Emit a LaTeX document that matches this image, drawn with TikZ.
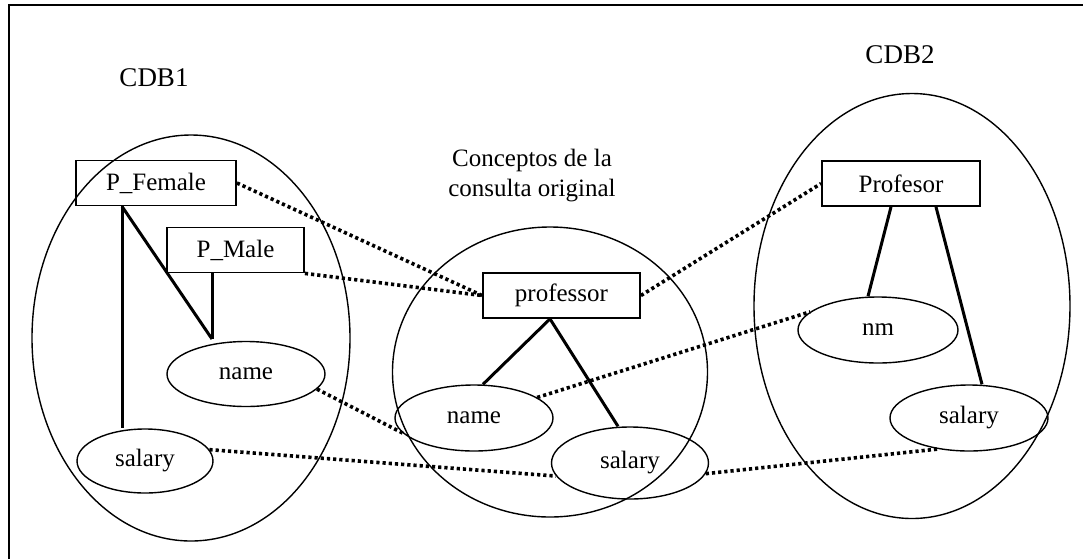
\documentclass[tikz,border=0pt]{standalone}
\usepackage{fontspec}
\setmainfont{Liberation Serif}
\usetikzlibrary{shapes.geometric}

\begin{document}
\begin{tikzpicture}[x=0.5pt, y=-0.5pt,
    font=\fontsize{12.5}{15}\selectfont,
    cls/.style={draw, rectangle, line width=0.9pt, minimum height=22.5pt, inner sep=1pt},
    att/.style={draw, ellipse, line width=0.7pt, inner sep=0pt},
    cdb/.style={draw, ellipse, line width=0.7pt, inner sep=0pt},
    rel/.style={line width=1.5pt},
    map/.style={line width=1.8pt, dash pattern=on 1.6pt off 1.5pt}]
  \useasboundingbox (0,0) rectangle (1083,559);
  \draw[line width=1pt] (9,559) -- (9,5) -- (1083,5);

  % the three groups of concepts
  \node[cdb, minimum width=159pt, minimum height=203pt] (G-1) at (191,338) {};
  \node[cdb, minimum width=157.5pt, minimum height=145pt] (G-2) at (550,372) {};
  \node[cdb, minimum width=158pt, minimum height=212.5pt] (G-3) at (912,306) {};
  \node[font=\fontsize{13.5}{16}\selectfont] (T-1) at (154,78) {CDB1};
  \node[font=\fontsize{13.5}{16}\selectfont] (T-3) at (900,55) {CDB2};
  \node[align=center] (T-2) at (532,176) {Conceptos de la\\consulta original};

  % CDB1
  \node[cls, minimum width=80pt] (PF) at (156,183) {P\_Female};
  \node[cls, minimum width=68.5pt, fill=white] (PM) at (235.5,250) {P\_Male};
  \node[att, minimum width=79pt, minimum height=32.5pt] (A-1) at (246,374) {name};
  \node[att, minimum width=68pt, minimum height=32pt] (S-1) at (145,461) {salary};
  \coordinate (pf) at ([xshift=-17pt]PF.south);
  \coordinate (jn) at (212,339);
  \draw[rel] (pf) -- (pf |- S-1.north);
  \draw[rel] (pf) -- (jn);
  \draw[rel] (jn |- PM.south) -- (jn);

  % consulta original
  \node[cls, minimum width=78.5pt] (PR) at (561.5,295.5) {professor};
  \node[att, minimum width=79pt, minimum height=33pt] (A-2) at (474,418) {name};
  \node[att, minimum width=78.5pt, minimum height=36pt] (S-2) at (630,463) {salary};
  \draw[rel] ([xshift=-5.75pt]PR.south) -- ([xshift=4.5pt]A-2.north);
  \draw[rel] ([xshift=-5.75pt]PR.south) -- ([xshift=-6pt]S-2.north);

  % CDB2
  \node[cls, minimum width=79pt] (PS) at (901,183.5) {Profesor};
  \node[att, minimum width=80pt, minimum height=33pt] (A-3) at (878,330) {nm};
  \node[att, minimum width=79pt, minimum height=33pt] (S-3) at (969,418) {salary};
  \draw[rel] ([xshift=-5pt]PS.south) -- ([xshift=-5pt]A-3.north);
  \draw[rel] ([xshift=17.5pt]PS.south) -- ([xshift=6.5pt]S-3.north);

  % correspondences
  \foreach \from/\to in {PF.east/PR.west, PM.south east/PR.west, A-1.-12/A-2.192,
      S-1.10/S-2.190, PR.east/PS.west, A-2.18/A-3.165, S-2.-8/S-3.225}
    \draw[map] (\from) -- (\to);
\end{tikzpicture}
\end{document}
